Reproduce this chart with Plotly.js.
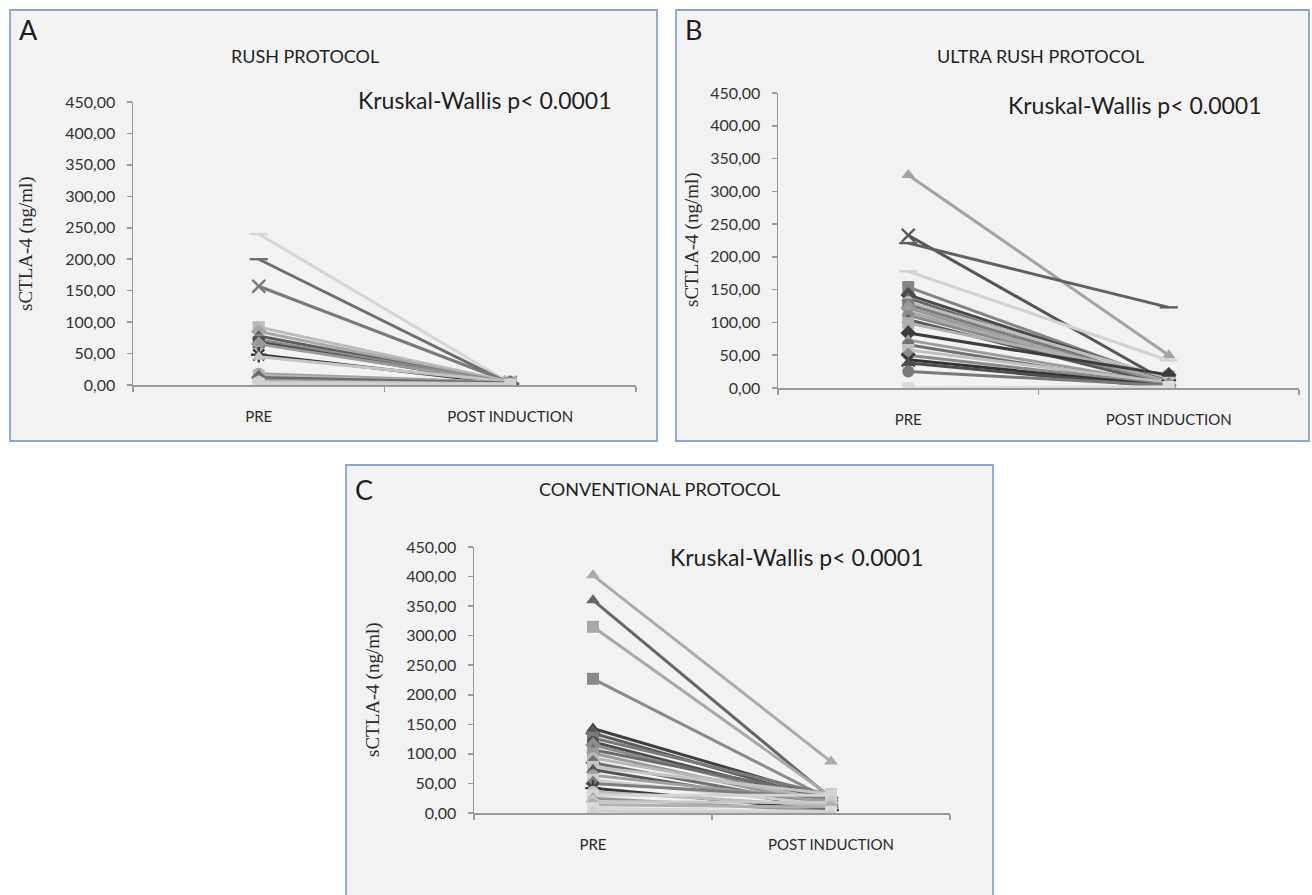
<!DOCTYPE html>
<html>
<head>
<meta charset="utf-8">
<script src="https://cdn.plot.ly/plotly-3.0.1.min.js"></script>
<style>
html,body{margin:0;padding:0;background:#fff;}
#chart{width:1312px;height:895px;}
</style>
</head>
<body>
<div id="chart"></div>
<script>
// ---------- data ----------
const categories = ['PRE', 'POST INDUCTION'];
const yTickValues = [0, 50, 100, 150, 200, 250, 300, 350, 400, 450];

const panelTitles = ['RUSH PROTOCOL', 'ULTRA RUSH PROTOCOL', 'CONVENTIONAL PROTOCOL'];
const panelLetters = ['A', 'B', 'C'];
const statText = 'Kruskal-Wallis p< 0.0001';
const yTitle = 'sCTLA-4 (ng/ml)';

// Panel A: RUSH
const preA  = [240, 200, 157, 92, 85, 78, 72, 68, 65, 48, 45, 18, 15, 12, 8, 5, 2];
const postA = [3, 2, 4, 5, 3, 2, 4, 1, 3, 2, 5, 4, 2, 3, 1, 2, 0];

// Panel B: ULTRA RUSH
const preB  = [325, 233, 221, 178, 154, 142, 137, 131, 127, 122, 116, 111, 104, 99, 84, 73, 66, 58, 50, 43, 38, 25, 0];
const postB = [50, 8, 123, 42, 10, 12, 5, 15, 8, 3, 10, 6, 4, 18, 20, 6, 2, 8, 5, 3, 1, 4, 2];

// Panel C: CONVENTIONAL
const preC  = [402, 360, 315, 227, 143, 135, 127, 120, 115, 107, 101, 93, 85, 78, 73, 64, 56, 50, 42, 36, 30, 25, 19, 14, 8, 3];
const postC = [87, 25, 28, 22, 25, 20, 30, 18, 15, 27, 12, 22, 10, 32, 8, 20, 14, 26, 5, 12, 30, 3, 18, 10, 2, 0];

// ---------- styles (grayscale, Excel-like) ----------
const colorsA  = ['#d6d6d6','#6e6e6e','#7a7a7a','#bcbcbc','#a8a8a8','#5e5e5e','#8a8a8a','#4a4a4a','#9a9a9a','#3a3a3a','#c4c4c4','#a0a0a0','#b5b5b5','#6a6a6a','#8f8f8f','#c8c8c8','#d2d2d2'];
const symbolsA = ['line-ew-open','line-ew-open','x-thin-open','square','diamond','triangle-up','circle','square','diamond','asterisk-open','triangle-up','circle','square','diamond','triangle-up','circle','square'];

const colorsB  = ['#a3a3a3','#555555','#606060','#d2d2d2','#858585','#4a4a4a','#6a6a6a','#bdbdbd','#7d7d7d','#999999','#a8a8a8','#8c8c8c','#5a5a5a','#b0b0b0','#3c3c3c','#9c9c9c','#707070','#c0c0c0','#8a8a8a','#333333','#4d4d4d','#7a7a7a','#dcdcdc'];
const symbolsB = ['triangle-up','x-thin-open','line-ew-open','line-ew-open','square','diamond','triangle-up','circle','square','diamond','triangle-up','circle','triangle-up','square','diamond','triangle-up','circle','square','diamond','x-thin-open','triangle-up','circle','square'];

const colorsC  = ['#aaaaaa','#666666','#a8a8a8','#8a8a8a','#404040','#5a5a5a','#7a7a7a','#4e4e4e','#8e8e8e','#6c6c6c','#9a9a9a','#b8b8b8','#707070','#c4c4c4','#555555','#a0a0a0','#cfcfcf','#7d7d7d','#3a3a3a','#bdbdbd','#d4d4d4','#969696','#c8c8c8','#b0b0b0','#dadada','#d0d0d0'];
const symbolsC = ['triangle-up','triangle-up','square','square','triangle-up','diamond','square','circle','diamond','triangle-up','square','circle','diamond','square','triangle-up','circle','square','diamond','asterisk-open','circle','square','triangle-up','diamond','circle','square','triangle-up'];

// ---------- layout helpers ----------
const W = 1312, H = 895;
const px = x => x / W;
const py = y => 1 - y / H;

function buildTraces(pre, post, colors, symbols, xa, ya) {
  const traces = [];
  for (let i = 0; i < pre.length; i++) {
    const c = colors[i % colors.length];
    const s = symbols[i % symbols.length];
    const open = s.indexOf('open') >= 0;
    traces.push({
      type: 'scatter',
      mode: 'lines+markers',
      x: categories,
      y: [pre[i], post[i]],
      xaxis: xa, yaxis: ya,
      line: {color: c, width: 3},
      marker: {
        symbol: s,
        size: open ? 13 : 12,
        color: c,
        line: {color: c, width: open ? 2.4 : 0}
      },
      hoverinfo: 'y',
      showlegend: false
    });
  }
  return traces;
}

const data = []
  .concat(buildTraces(preA, postA, colorsA, symbolsA, 'x', 'y'))
  .concat(buildTraces(preB, postB, colorsB, symbolsB, 'x2', 'y2'))
  .concat(buildTraces(preC, postC, colorsC, symbolsC, 'x3', 'y3'));

const axisColor = '#999999';
const tickFontFamily = 'Lato, "Open Sans", sans-serif';
function xAxis(domain, anchor) {
  return {
    domain: domain, anchor: anchor,
    type: 'category',
    categoryorder: 'array', categoryarray: categories,
    range: [-0.5, 1.5],
    tickson: 'boundaries',
    ticks: 'outside', ticklen: 5, tickcolor: axisColor, tickwidth: 1.5,
    showline: true, linecolor: axisColor, linewidth: 1.5,
    showgrid: false, zeroline: false,
    ticklabelstandoff: 17,
    tickfont: {family: tickFontFamily, size: 15, color: '#2a2a2a'},
    fixedrange: true
  };
}
function yAxis(domain, anchor) {
  return {
    domain: domain, anchor: anchor,
    range: [0, 450],
    tickmode: 'array', tickvals: yTickValues,
    tickformat: '.2f',
    ticks: 'outside', ticklen: 5, tickcolor: axisColor, tickwidth: 1.5,
    showline: true, linecolor: axisColor, linewidth: 1.5,
    showgrid: false, zeroline: false,
    ticklabelstandoff: 8,
    tickfont: {family: tickFontFamily, size: 16, color: '#333333'},
    fixedrange: true
  };
}

// plot-area pixel geometry
const geo = {
  A: {x0: 133, x1: 636, y0: 385, y1: 102},
  B: {x0: 778, x1: 1299, y0: 388, y1: 93},
  C: {x0: 474, x1: 950, y0: 813, y1: 547}
};

const layout = {
  width: W, height: H,
  margin: {l: 0, r: 0, t: 0, b: 0},
  paper_bgcolor: '#ffffff',
  plot_bgcolor: 'rgba(0,0,0,0)',
  separators: ', ',
  showlegend: false,
  xaxis:  xAxis([px(geo.A.x0), px(geo.A.x1)], 'y'),
  yaxis:  yAxis([py(geo.A.y0), py(geo.A.y1)], 'x'),
  xaxis2: xAxis([px(geo.B.x0), px(geo.B.x1)], 'y2'),
  yaxis2: yAxis([py(geo.B.y0), py(geo.B.y1)], 'x2'),
  xaxis3: xAxis([px(geo.C.x0), px(geo.C.x1)], 'y3'),
  yaxis3: yAxis([py(geo.C.y0), py(geo.C.y1)], 'x3'),
  shapes: [
    {type: 'rect', xref: 'paper', yref: 'paper', x0: px(10), x1: px(657), y0: py(441), y1: py(10),
     fillcolor: '#f2f2f2', line: {color: '#8aa5cf', width: 1.8}, layer: 'below'},
    {type: 'rect', xref: 'paper', yref: 'paper', x0: px(676), x1: px(1309), y0: py(441), y1: py(10),
     fillcolor: '#f2f2f2', line: {color: '#8aa5cf', width: 1.8}, layer: 'below'},
    {type: 'rect', xref: 'paper', yref: 'paper', x0: px(346), x1: px(993), y0: py(905), y1: py(465),
     fillcolor: '#f2f2f2', line: {color: '#8aa5cf', width: 1.8}, layer: 'below'}
  ],
  annotations: []
};

const textFont = 'Lato, "Open Sans", sans-serif';
function addText(text, x, y, size, opts) {
  layout.annotations.push(Object.assign({
    text: text, xref: 'paper', yref: 'paper', x: px(x), y: py(y),
    xanchor: 'center', yanchor: 'middle', showarrow: false,
    font: {family: textFont, size: size, color: '#1e1e1e'}
  }, opts || {}));
}

// letters
addText(panelLetters[0], 28, 29, 27);
addText(panelLetters[1], 693, 29, 27);
addText(panelLetters[2], 364, 489, 27);
// panel titles
addText(panelTitles[0], 305, 56, 18);
addText(panelTitles[1], 1040, 56, 18);
addText(panelTitles[2], 659, 489, 18);
// stats
addText(statText, 485, 100, 23);
addText(statText, 1135, 105, 23);
addText(statText, 797, 557, 23);
// y titles
const yTitleFont = {family: '"Liberation Serif", "DejaVu Serif", serif', size: 19, color: '#2a2a2a'};
addText(yTitle, 26, 244, 19, {textangle: -90, font: yTitleFont});
addText(yTitle, 692, 240, 19, {textangle: -90, font: yTitleFont});
addText(yTitle, 373, 690, 19, {textangle: -90, font: yTitleFont});

Plotly.newPlot('chart', data, layout, {displayModeBar: false, staticPlot: true});
</script>
</body>
</html>
